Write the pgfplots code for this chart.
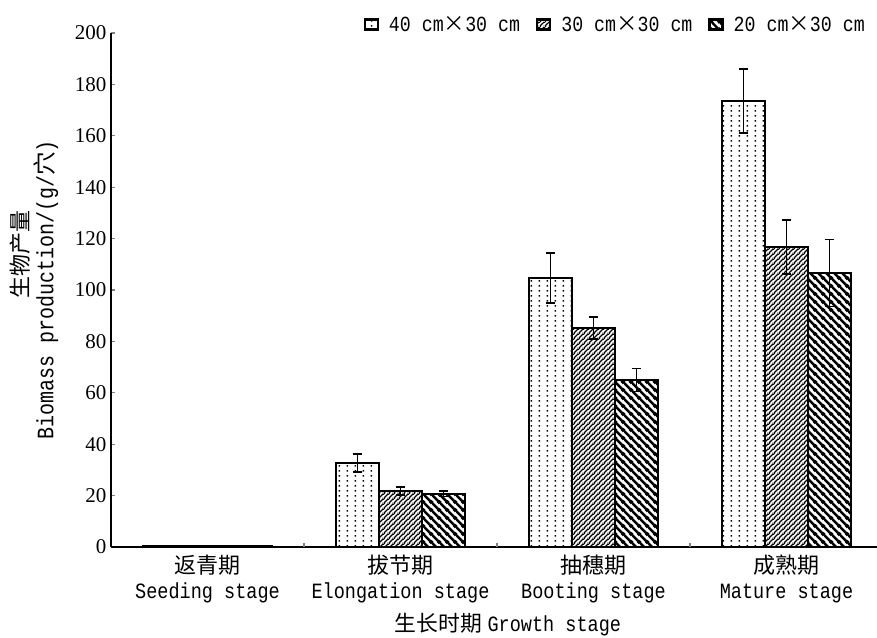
\documentclass[border=0pt]{standalone}
\usepackage{fontspec}
\usepackage{pgfplots}
\pgfplotsset{compat=1.18}
\usetikzlibrary{patterns.meta}
\setmainfont{Liberation Serif}
\newfontfamily\cjk{Noto Sans CJK SC}
\newfontfamily\latmono[FakeStretch=0.85]{Liberation Mono}

\tikzdeclarepattern{
  name=sdots, type=colored,
  bounding box={(0bp,0bp) and (8bp,5bp)},
  tile size={(8bp,5bp)},
  code={\fill[black] (3bp,1.6bp) rectangle (4.7bp,3.3bp);}
}
\tikzdeclarepattern{
  name=fineNE, type=colored,
  bounding box={(0bp,0bp) and (4.5bp,4.5bp)},
  tile size={(4.5bp,4.5bp)},
  code={\draw[black,line width=1.2bp] (-1bp,-1bp) -- (5.5bp,5.5bp);
        \draw[black,line width=1.2bp] (-1bp,3.5bp) -- (1bp,5.5bp);
        \draw[black,line width=1.2bp] (3.5bp,-1bp) -- (5.5bp,1bp);}
}
\tikzdeclarepattern{
  name=thickNW, type=colored,
  bounding box={(0bp,0bp) and (8bp,8bp)},
  tile size={(8bp,8bp)},
  code={\draw[black,line width=2.6bp] (-1bp,9bp) -- (9bp,-1bp);
        \draw[black,line width=2.6bp] (-2bp,2bp) -- (2bp,-2bp);
        \draw[black,line width=2.6bp] (6bp,10bp) -- (10bp,6bp);}
}

\begin{document}
\begin{tikzpicture}
\begin{axis}[
  scale only axis,
  width=766bp, height=514bp,
  xmin=-0.5, xmax=3.469,
  ymin=0, ymax=200,
  ybar=0pt,
  bar width=0.2228,
  axis lines=left,
  axis line style={-, line width=1.6bp},
  ytick={0,20,...,200},
  xtick={0,1,2,3},
  extra x ticks={0.5,1.5,2.5},
  extra x tick labels={},
  extra x tick style={major tick length=4bp, tick style={line width=1.3bp}},
  major tick length=0bp,
  ytick style={line width=1.3bp},
  y tick style={/pgfplots/major tick length=4bp},
  tick align=inside,
  xticklabels={{{\cjk\fontsize{22bp}{26bp}\selectfont 返青期}\\{\latmono Seeding stage}},
               {{\cjk\fontsize{22bp}{26bp}\selectfont 拔节期}\\{\latmono Elongation stage}},
               {{\cjk\fontsize{22bp}{26bp}\selectfont 抽穗期}\\{\latmono Booting stage}},
               {{\cjk\fontsize{22bp}{26bp}\selectfont 成熟期}\\{\latmono Mature stage}}},
  xticklabel style={align=center, font=\fontsize{21.8bp}{25bp}\selectfont, yshift=-4bp},
  yticklabel style={font=\fontsize{21bp}{24bp}\selectfont, xshift=-1bp},
  /pgf/number format/assume math mode=true,
  xlabel={{\cjk 生长时期} {\latmono Growth stage}},
  xlabel style={font=\fontsize{21.8bp}{25bp}\selectfont, yshift=-4bp, xshift=14bp},
  ylabel={\hspace*{72bp}{\cjk\fontsize{22bp}{24bp}\selectfont 生物产量}\\{\latmono Biomass production/(g/}{\cjk 穴}{\latmono )}},
  ylabel style={align=center, font=\fontsize{23.5bp}{25bp}\selectfont, yshift=10bp},
  legend style={at={(1,1)}, anchor=south east, draw=none, fill=none,
    legend columns=3, xshift=-10bp, yshift=-2bp,
    font=\fontsize{21.5bp}{24bp}\selectfont,
    /tikz/every odd column/.append style={column sep=8bp},
    /tikz/every even column/.append style={column sep=14bp},
    legend cell align=left, inner sep=0pt},
  legend image code/.code={\draw[#1, line width=2.2bp] (0bp,-5bp) rectangle (13bp,5bp);},
  error bars/y dir=both,
  error bars/y explicit,
  error bars/error bar style={line width=1.6bp, black},
  error bars/error mark options={rotate=90, mark size=4.8bp, line width=1.6bp, black},
]
\addplot[draw=black, line width=1.5bp, pattern={sdots}]
  coordinates {(0,0.4) +- (0,0) (1,32.7) +- (0,3.5) (2,104.7) +- (0,9.8) (3,173.5) +- (0,12.5)};
\addlegendentry{{\latmono 40 cm}{\cjk ×}{\latmono 30 cm}}
\addplot[draw=black, line width=1.5bp, pattern={fineNE}]
  coordinates {(0,0.4) +- (0,0) (1,21.8) +- (0,1.6) (2,85.2) +- (0,4.3) (3,116.7) +- (0,10.5)};
\addlegendentry{{\latmono 30 cm}{\cjk ×}{\latmono 30 cm}}
\addplot[draw=black, line width=1.5bp, pattern={thickNW}]
  coordinates {(0,0.4) +- (0,0) (1,20.7) +- (0,1.0) (2,65.0) +- (0,4.5) (3,106.6) +- (0,13.0)};
\addlegendentry{{\latmono 20 cm}{\cjk ×}{\latmono 30 cm}}
\end{axis}
\pgfresetboundingbox
\path (current axis.south west) ++(-111bp,-91bp) rectangle ++(877bp,638bp);
\end{tikzpicture}
\end{document}
